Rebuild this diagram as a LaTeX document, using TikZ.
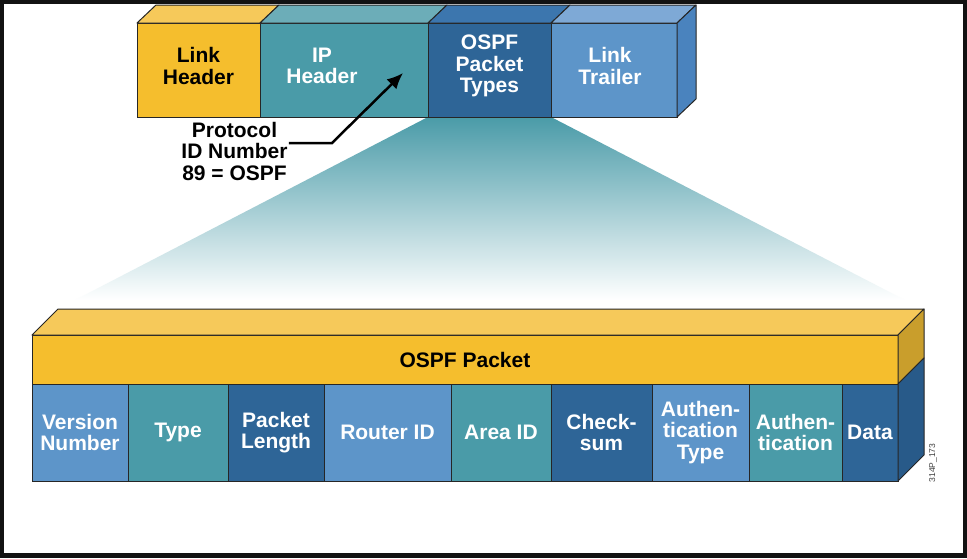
\documentclass[tikz,border=0pt]{standalone}
\usepackage{fontspec}
\setmainfont{Liberation Sans}
\usepackage{tikz}
\usetikzlibrary{arrows.meta,calc}

\definecolor{pyellow}{HTML}{F5BE2D}
\definecolor{pyellowtop}{HTML}{F6C95A}
\definecolor{pyellowside}{HTML}{C99E2C}
\definecolor{pteal}{HTML}{4A9BA8}
\definecolor{ptealtop}{HTML}{6CADB8}
\definecolor{pdblue}{HTML}{2E6597}
\definecolor{pdbluetop}{HTML}{3C76AE}
\definecolor{pdblueside}{HTML}{285A89}
\definecolor{plblue}{HTML}{5D95C9}
\definecolor{plbluetop}{HTML}{7EA9D6}
\definecolor{plblueside}{HTML}{4A83BE}
\definecolor{pedge}{HTML}{262626}

\tikzset{
  box/.style={draw=pedge,line width=1pt,outer sep=0pt,inner sep=0pt,minimum height=94pt},
  field/.style={draw=pedge,line width=1pt,outer sep=0pt,inner sep=0pt,minimum height=97pt,
    text=white,align=center},
  boxlabel/.style={align=center,inner sep=1pt},
  face/.style={draw=pedge,line width=1pt,line join=round}
}

\begin{document}
\begin{tikzpicture}[x=1pt,y=-1pt,font=\fontsize{21}{21.5}\selectfont\bfseries,>=Latex]
  \useasboundingbox (0,0) rectangle (967,558);
  \fill[black!93] (0,0) rectangle (967,558);
  \fill[white] (4,4) rectangle (963,553);
  % zoom funnel
  \shade[top color=pteal,middle color=pteal!55!white,bottom color=white] (428,117) -- (551,117) -- (905,300) -- (75,300) -- cycle;
  % encapsulated frame
  \node[box,fill=pyellow,minimum width=123pt] (lh) at (198.5,70) {};
  \node[box,fill=pteal,minimum width=168pt] (iph) at (344,70) {};
  \node[box,fill=pdblue,minimum width=123pt] (pt) at (489.5,70) {};
  \node[box,fill=plblue,minimum width=126pt] (lt) at (614,70) {};
  \foreach \n/\c in {lh/pyellowtop,iph/ptealtop,pt/pdbluetop,lt/plbluetop}
    \filldraw[face,fill=\c] (\n.north west) -- ++(19,-18) -- ($(\n.north east)+(19,-18)$) -- (\n.north east) -- cycle;
  \filldraw[face,fill=plblueside] (lt.north east) -- ++(19,-18) -- ++(0,94) -- (lt.south east) -- cycle;
  \node[boxlabel] (lhtext) at ([yshift=4pt]lh.center) {Link\\Header};
  \node[boxlabel,white] (iptext) at ([xshift=-22pt,yshift=4pt]iph.center) {IP\\Header};
  \node[boxlabel,white] (pttext) at ([yshift=4pt]pt.center) {OSPF\\Packet\\Types};
  \node[boxlabel,white] (lttext) at ([xshift=-4pt,yshift=4pt]lt.center) {Link\\Trailer};
  % protocol callout
  \node[boxlabel] (proto) at (234.5,151) {Protocol\\ID Number\\89 = OSPF};
  \coordinate (bend) at (332,143);
  \coordinate (tip) at (403,73);
  \draw[line width=2.5pt,-{Latex[length=16pt,width=14pt]}] (proto.east |- bend) -- (bend) -- (tip);
  % ospf packet
  \node[draw=pedge,line width=1pt,outer sep=0pt,fill=pyellow,minimum width=866pt,minimum height=49pt] (pk) at (465,359.5) {OSPF Packet};
  \filldraw[face,fill=pyellowtop] (pk.north west) -- ++(26,-26) -- ($(pk.north east)+(26,-26)$) -- (pk.north east) -- cycle;
  \filldraw[face,fill=pyellowside] (pk.north east) -- ++(26,-26) -- ++(0,49) -- (pk.south east) -- cycle;
  \foreach \xa/\xb/\c/\t [count=\i] in {32/128/plblue/{Version\\Number},128/228/pteal/Type,
      228/324/pdblue/{Packet\\Length},324/451/plblue/Router ID,451/551/pteal/Area ID,
      551/652/pdblue/{Check-\\sum},652/749/plblue/{Authen-\\tication\\Type},
      749/842/pteal/{Authen-\\tication},842/898/pdblue/Data} {
    \pgfmathsetmacro\w{\xb-\xa}
    \pgfmathsetmacro\cx{(\xa+\xb)/2}
    \node[field,fill=\c,minimum width=\w pt] (f\i) at (\cx,432.5) {\t};
  }
  \filldraw[face,fill=pdblueside] (f9.north east) -- ++(26,-26) -- ++(0,97) -- (f9.south east) -- cycle;
  \node[rotate=90,font=\fontsize{8.5}{9}\selectfont,text=black!75] (figref) at (933,463) {314P\_173};
\end{tikzpicture}
\end{document}
